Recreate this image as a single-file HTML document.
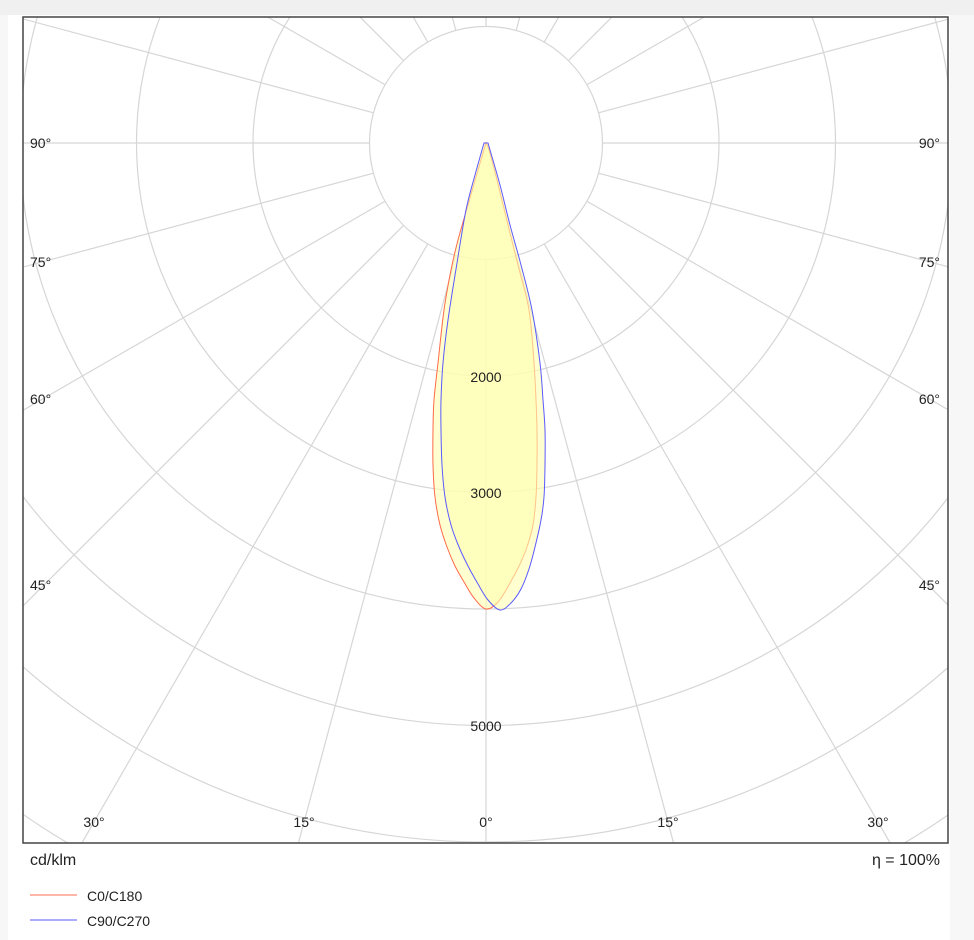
<!DOCTYPE html>
<html><head><meta charset="utf-8"><style>
html,body{margin:0;padding:0;background:#fff;width:974px;height:940px;overflow:hidden}
body{font-family:"Liberation Sans","DejaVu Sans",sans-serif}
svg{display:block}
.top{position:absolute;left:0;top:0;width:974px;height:15px;background:#f0f0f0}
.rt{position:absolute;left:950px;top:15px;width:24px;height:925px;background:#f7f7f7}
.lt{position:absolute;left:0;top:15px;width:8px;height:925px;background:#f7f7f7}
</style></head><body>
<div class="top"></div><div class="rt"></div><div class="lt"></div>
<svg width="974" height="940" style="position:absolute;left:0;top:0">
<defs><clipPath id="c"><rect x="23" y="17" width="925" height="826"/></clipPath></defs>
<rect x="8" y="15" width="942" height="925" fill="#fff"/>
<g clip-path="url(#c)" fill="none" stroke="#d6d6d6" stroke-width="1.2">
<circle cx="486" cy="143" r="116.5"/>
<circle cx="486" cy="143" r="233"/>
<circle cx="486" cy="143" r="349.5"/>
<circle cx="486" cy="143" r="466"/>
<circle cx="486" cy="143" r="582.5"/>
<circle cx="486" cy="143" r="699"/>
<circle cx="486" cy="143" r="815.5"/>
<g id="rays"></g>
</g>
<g clip-path="url(#c)">
<path id="red" d="" fill="#ffffb0" fill-opacity="0.6" stroke="#ff6a4a" stroke-width="1"/>
<path id="blue" d="" fill="#ffffb0" fill-opacity="0.6" stroke="#5a5aff" stroke-width="1"/>
</g>
<g font-size="14" fill="#222" font-family="Liberation Sans, sans-serif">
<text x="30" y="148">90°</text><text x="940" y="148" text-anchor="end">90°</text>
<text x="30" y="267">75°</text><text x="940" y="267" text-anchor="end">75°</text>
<text x="30" y="404">60°</text><text x="940" y="404" text-anchor="end">60°</text>
<text x="30" y="590">45°</text><text x="940" y="590" text-anchor="end">45°</text>
<text x="94" y="827" text-anchor="middle">30°</text>
<text x="304" y="827" text-anchor="middle">15°</text>
<text x="486" y="827" text-anchor="middle">0°</text>
<text x="668" y="827" text-anchor="middle">15°</text>
<text x="878" y="827" text-anchor="middle">30°</text>
<text x="486" y="382" text-anchor="middle">2000</text>
<text x="486" y="498" text-anchor="middle">3000</text>
<text x="486" y="731" text-anchor="middle">5000</text>
</g>
<rect x="23" y="17" width="925" height="826" fill="none" stroke="#444" stroke-width="1.5"/>
<text x="30" y="865" font-size="16" fill="#222">cd/klm</text>
<text x="940" y="865" font-size="16" fill="#222" text-anchor="end">η = 100%</text>
<line x1="30" y1="895" x2="77" y2="895" stroke="#ff8a70" stroke-width="1.2"/>
<line x1="30" y1="920" x2="77" y2="920" stroke="#7a7aff" stroke-width="1.2"/>
<text x="87" y="901" font-size="14" fill="#222">C0/C180</text>
<text x="87" y="926" font-size="14" fill="#222">C90/C270</text>
</svg>
<script>
var g=document.getElementById('rays'),s='';
for(var a=0;a<360;a+=15){var r=a*Math.PI/180,dx=Math.sin(r),dy=Math.cos(r);
s+='<line x1="'+(486+116.5*dx)+'" y1="'+(143+116.5*dy)+'" x2="'+(486+1400*dx)+'" y2="'+(143+1400*dy)+'"/>';}
g.innerHTML=s;
function cr(p){var d='M'+p[0]+','+p[1],n=p.length/2;
for(var i=0;i<n-1;i++){var i0=Math.max(i-1,0),i3=Math.min(i+2,n-1);
var x0=p[2*i0],y0=p[2*i0+1],x1=p[2*i],y1=p[2*i+1],x2=p[2*i+2],y2=p[2*i+3],x3=p[2*i3],y3=p[2*i3+1];
d+=' C'+(x1+(x2-x0)/6)+','+(y1+(y2-y0)/6)+' '+(x2-(x3-x1)/6)+','+(y2-(y3-y1)/6)+' '+x2+','+y2;}
return d+'Z';}
document.getElementById('red').setAttribute('d',cr([486,143,478,170,468,205,458,240,451,270,444,310,438,363,434,400,433,430,433,465,435,497,440,525,447,547,455,566,464,582,474,598,486,609,498,602,510,583,520,564,527,547,533,525,536,497,537,465,537,430,536,400,534,363,529,310,518,265,508,225,497,180,489,150,486,143]));
document.getElementById('blue').setAttribute('d',cr([484,143,475,175,466,210,457,263,448,320,443,363,441,400,441,430,442,465,445,497,451,525,459,547,468,566,478,584,488,600,500,610,511,603,521,589,529,569,535,547,541,520,544,497,545,465,545,430,543,400,540,363,532,310,521,265,510,225,500,185,490,150,488,143]));
</script>
</body></html>
